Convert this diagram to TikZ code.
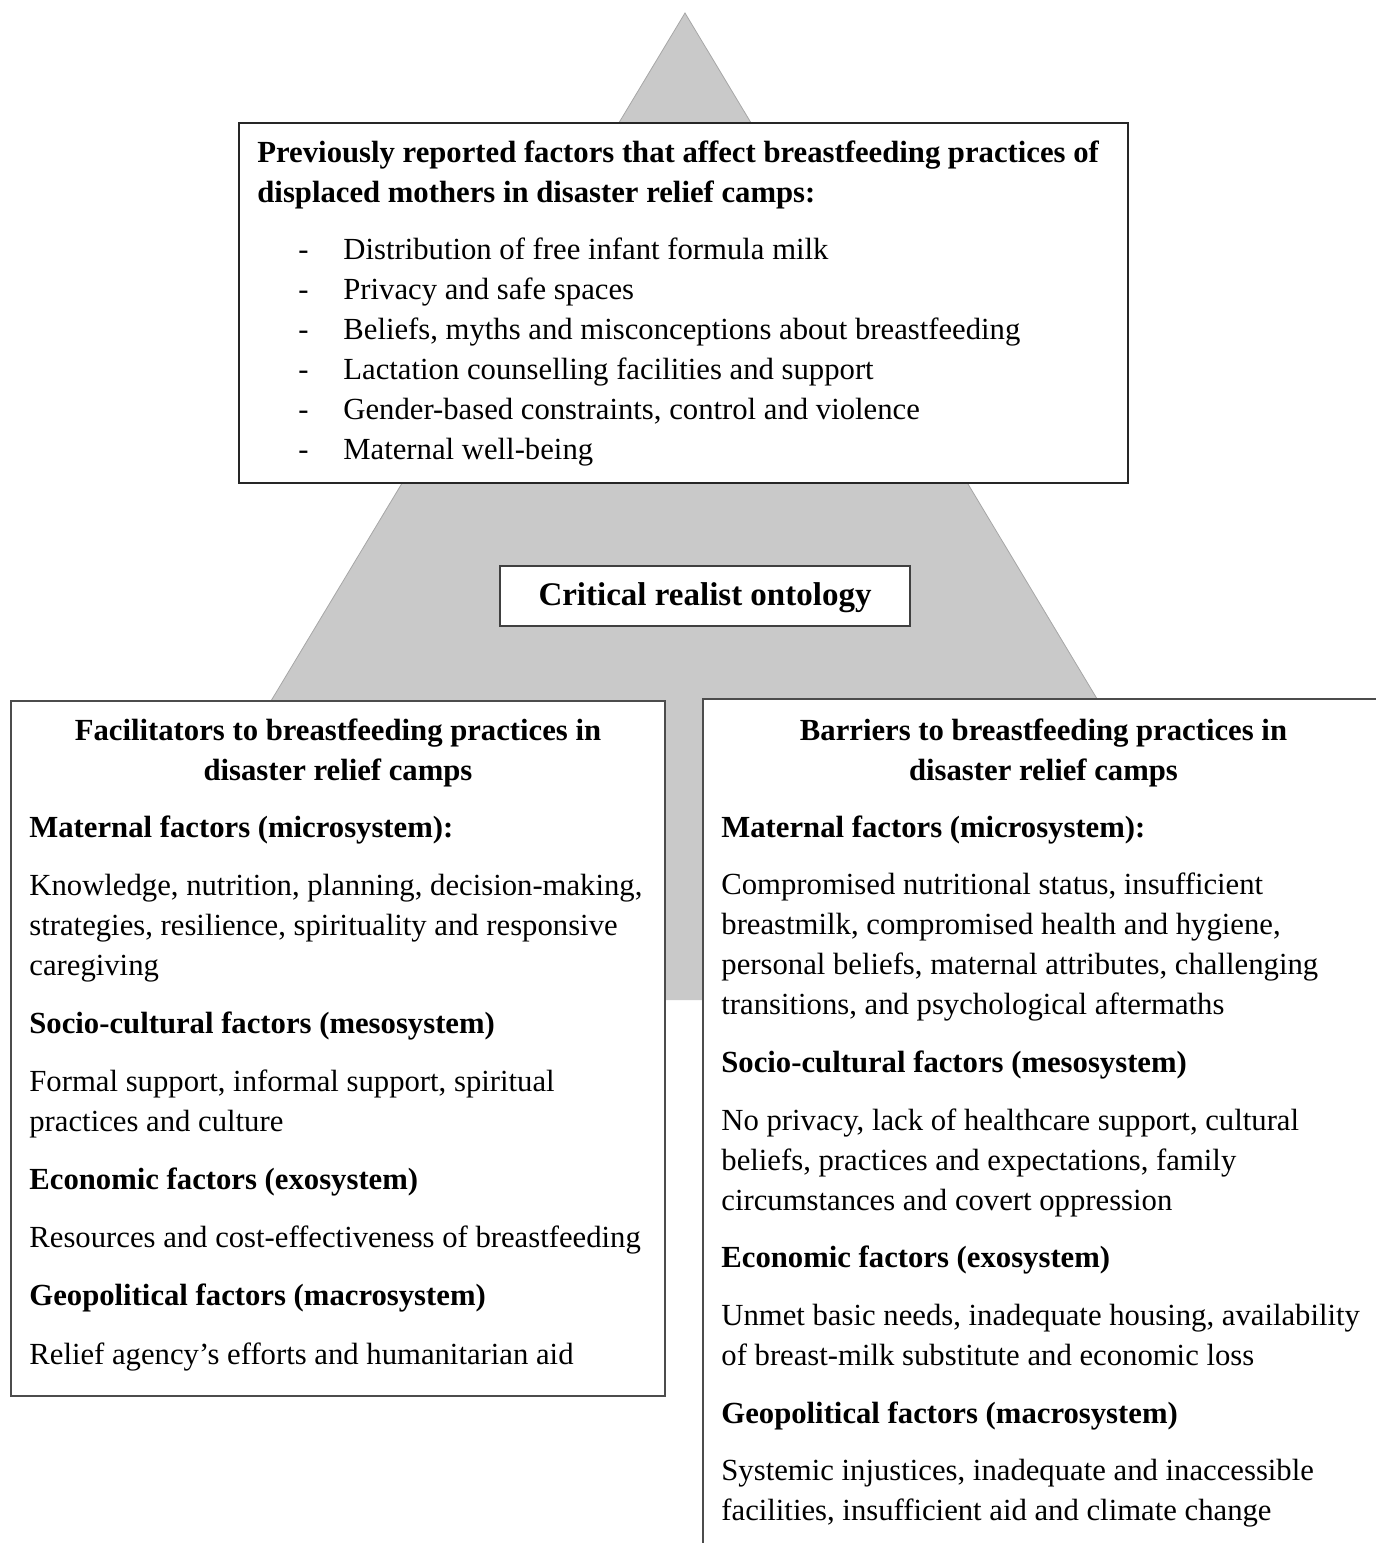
\documentclass[tikz,border=0pt]{standalone}
\usepackage{fontspec}
\setmainfont{Liberation Serif}
\begin{document}
\begin{tikzpicture}[x=0.5pt,y=-0.5pt,
  body/.style={anchor=base west, inner sep=0pt, font=\fontsize{15.35}{20}\selectfont},
  head/.style={body, font=\fontsize{15.35}{20}\selectfont\bfseries},
  ctitle/.style={anchor=base, inner sep=0pt, font=\fontsize{15.35}{20}\selectfont\bfseries},
  boxline/.style={draw=black!85, line width=0.65pt, fill=white},
  sidebox/.style={draw=black!70, line width=0.65pt, fill=white}]
\clip (0,0) rectangle (1376,1543);

% background pyramid
\fill[gray!42] (685,13) -- (1278,1000) -- (91,1000) -- cycle;
\draw[gray!70, line width=0.4pt] (91,1000) -- (685,13) -- (1278,1000);

% boxes
\draw[boxline] (239,123) rectangle (1128,483);
\draw[draw=black!75, line width=0.65pt, fill=white] (500,566) rectangle (910,626);
\draw[sidebox] (11,701) rectangle (665,1396);
\draw[sidebox] (703,699) rectangle (1400,1570);

% top box
\node[head] (t1) at (257,162) {Previously reported factors that affect breastfeeding practices of};
\node[head] (t2) at (257,202) {displaced mothers in disaster relief camps:};
\foreach \yy/\tx [count=\i] in {
  259.5/{Distribution of free infant formula milk},
  299.5/{Privacy and safe spaces},
  339.5/{Beliefs, myths and misconceptions about breastfeeding},
  379.5/{Lactation counselling facilities and support},
  419.5/{Gender-based constraints, control and violence},
  459.5/{Maternal well-being}} {
  \node[body] (dash\i) at (298,\yy) {-};
  \node[body] (item\i) at (343,\yy) {\tx};
}

% centre label
\node[ctitle, font=\fontsize{16.5}{20}\selectfont\bfseries] (cro) at (705,605) {Critical realist ontology};

% facilitators
\node[ctitle] (fh1) at (338,740.5) {Facilitators to breastfeeding practices in};
\node[ctitle] (fh2) at (338,780.5) {disaster relief camps};
\foreach \yy/\st/\tx [count=\i] in {
  837/head/{Maternal factors (microsystem):},
  895.1/body/{Knowledge, nutrition, planning, decision-making,},
  935.1/body/{strategies, resilience, spirituality and responsive},
  975.1/body/{caregiving},
  1033.2/head/{Socio-cultural factors (mesosystem)},
  1091.3/body/{Formal support, informal support, spiritual},
  1131.3/body/{practices and culture},
  1189.4/head/{Economic factors (exosystem)},
  1247.5/body/{Resources and cost-effectiveness of breastfeeding},
  1305.6/head/{Geopolitical factors (macrosystem)},
  1364.5/body/{Relief agency’s efforts and humanitarian aid}} {
  \node[\st] (fac\i) at (29,\yy) {\tx};
}

% barriers
\node[ctitle] (bh1) at (1043.5,740.5) {Barriers to breastfeeding practices in};
\node[ctitle] (bh2) at (1043.5,780.5) {disaster relief camps};
\foreach \yy/\st/\tx [count=\i] in {
  837/head/{Maternal factors (microsystem):},
  894.7/body/{Compromised nutritional status, insufficient},
  934.7/body/{breastmilk, compromised health and hygiene,},
  974.7/body/{personal beliefs, maternal attributes, challenging},
  1014.7/body/{transitions, and psychological aftermaths},
  1072.4/head/{Socio-cultural factors (mesosystem)},
  1130.1/body/{No privacy, lack of healthcare support, cultural},
  1170.1/body/{beliefs, practices and expectations, family},
  1210.1/body/{circumstances and covert oppression},
  1267.8/head/{Economic factors (exosystem)},
  1325.5/body/{Unmet basic needs, inadequate housing, availability},
  1365.5/body/{of breast-milk substitute and economic loss},
  1423.2/head/{Geopolitical factors (macrosystem)},
  1480.9/body/{Systemic injustices, inadequate and inaccessible},
  1520.9/body/{facilities, insufficient aid and climate change}} {
  \node[\st] (bar\i) at (721,\yy) {\tx};
}
\end{tikzpicture}
\end{document}
